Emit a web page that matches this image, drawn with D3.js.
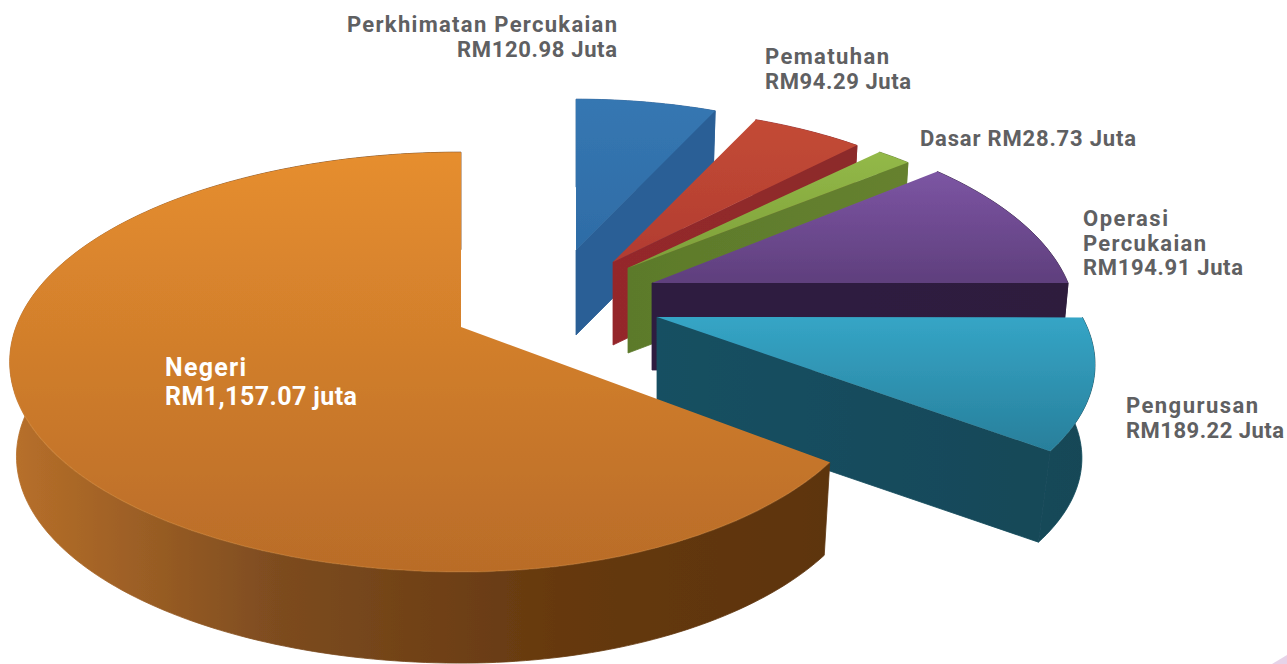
<!DOCTYPE html>
<html>
<head>
<meta charset="utf-8">
<script src="https://cdn.jsdelivr.net/npm/d3@7"></script>
<style>
  html, body { margin: 0; padding: 0; background: #fff; }
  svg { display: block; }
  text { font-family: Roboto, "Noto Sans", sans-serif; font-weight: 700; }
</style>
</head>
<body>
<svg id="chart" width="1287" height="664"></svg>
<script>
// Budget allocation, RM million, clockwise from twelve o'clock
const categories = ["Perkhimatan Percukaian", "Pematuhan", "Dasar", "Operasi Percukaian", "Pengurusan", "Negeri"];
const amounts = [120.98, 94.29, 28.73, 194.91, 189.22, 1157.07];

// Text blocks drawn beside each wedge
const labelLines = [
  ["Perkhimatan Percukaian", "RM120.98 Juta"],
  ["Pematuhan", "RM94.29 Juta"],
  ["Dasar RM28.73 Juta"],
  ["Operasi", "Percukaian", "RM194.91 Juta"],
  ["Pengurusan", "RM189.22 Juta"],
  ["Negeri", "RM1,157.07 juta"]
];

// Exploded wedge placement: apex on screen, horizontal radii, vertical radius,
// thickness, base shrink, camera distance and a slight screen-space tilt
const wedgeLayout = [
  { ax: 576, ay: 250, al: 388, ar: 388, b: 176, depth: 85, k: 0.98, view: 6, tilt: 0 },
  { ax: 613, ay: 262, al: 398, ar: 398, b: 180, depth: 83, k: 0.98, view: 6, tilt: 0 },
  { ax: 628, ay: 268, al: 410, ar: 410, b: 179, depth: 85, k: 0.98, view: 6, tilt: 0 },
  { ax: 652, ay: 283, al: 418, ar: 418, b: 195, depth: 87, k: 0.98, view: 6, tilt: 0.012 },
  { ax: 657, ay: 317, al: 428, ar: 428, b: 189, depth: 95, k: 0.97, view: 4.7, tilt: 0.0125 },
  { ax: 461, ay: 327, al: 445, ar: 414, b: 204, depth: 95, k: 0.985, view: 6, tilt: 0 }
];

// Face and wall shading per wedge
const topShades = [
  ["#3677b2", "#2e6ca6"], ["#c34b36", "#b23c30"], ["#93b948", "#7d9f39"],
  ["#7c55a3", "#5f3f7d"], ["#35a5c6", "#287f9b"], ["#e68e2f", "#b96c28"]
];
const wallShades = [
  ["#2a5f96", "#2a5f96"], ["#95282c", "#8c2a2b"], ["#5c7a2b", "#66812f"],
  ["#2e1c40", "#2e1c3e"], ["#165062", "#124757"], ["#b8702a", "#7c4b1f", "#66390f", "#5d3410"]
];

const svg = d3.select("#chart");
const defs = svg.append("defs");

defs.append("filter").attr("id", "soft")
  .attr("x", "-5%").attr("y", "-5%").attr("width", "110%").attr("height", "110%")
  .append("feGaussianBlur").attr("stdDeviation", 0.55);

// Wedge angles come straight from the amounts
const pie = d3.pie().sort(null).value(d => d).startAngle(0).endAngle(2 * Math.PI);
const arcs = pie(amounts);

// Project a ground-plane angle onto the screen with a simple perspective
function rimPoint(layout, angle, scale = 1, dy = 0) {
  const sx = Math.sin(angle), cz = Math.cos(angle);
  const p = layout.view / (layout.view + cz);
  const rx = sx < 0 ? layout.al : layout.ar;
  const run = sx * rx * p * scale;
  return [layout.ax + run, layout.ay + dy - cz * layout.b * p * scale + layout.tilt * run];
}

function sampleAngles(a0, a1) {
  const n = Math.max(4, Math.ceil((a1 - a0) / 0.02));
  return d3.range(n + 1).map(i => a0 + (a1 - a0) * i / n);
}

const line = d3.line().curve(d3.curveLinear);

function addGradient(id, stops, x1, y1, x2, y2) {
  const g = defs.append("linearGradient").attr("id", id)
    .attr("gradientUnits", "userSpaceOnUse")
    .attr("x1", x1).attr("y1", y1).attr("x2", x2).attr("y2", y2);
  g.selectAll("stop").data(stops).join("stop")
    .attr("offset", (d, i) => i / (stops.length - 1))
    .attr("stop-color", d => d);
  return `url(#${id})`;
}

const marks = svg.append("g").attr("filter", "url(#soft)");

arcs.forEach((arc, i) => {
  const L = wedgeLayout[i];
  const angles = sampleAngles(arc.startAngle, arc.endAngle);
  const topRim = angles.map(a => rimPoint(L, a));
  const baseRim = angles.map(a => rimPoint(L, a, L.k, L.depth));
  const apexTop = [L.ax, L.ay];
  const apexBase = [L.ax, L.ay + L.depth];
  const group = marks.append("g").attr("class", "wedge").datum(categories[i]);

  const xs = d3.extent(topRim.concat([apexTop]), d => d[0]);
  const ys = d3.extent(topRim.concat([apexTop]), d => d[1]);

  const wallFill = addGradient(`wall-${i}`, wallShades[i], xs[0], 0, xs[1], 0);

  // Outer curved wall
  group.append("path")
    .attr("d", line(topRim.concat(baseRim.slice().reverse())) + "Z")
    .attr("fill", wallFill)
    .attr("stroke", wallFill)
    .attr("stroke-width", 0.8);

  // Cut wall on the clockwise side of the wedge, skipped where it faces away
  if (i < 5) {
    const end = topRim[topRim.length - 1];
    const endBase = baseRim[baseRim.length - 1];
    group.append("path")
      .attr("d", line([apexTop, end, endBase, apexBase]) + "Z")
      .attr("fill", wallFill)
      .attr("stroke", wallFill)
      .attr("stroke-width", 0.8);
  }

  // Top face
  const faceFill = addGradient(`face-${i}`, topShades[i], 0, ys[0], 0, ys[1]);
  group.append("path")
    .attr("d", line([apexTop].concat(topRim)) + "Z")
    .attr("fill", faceFill);

  // Faint highlight along the front seam of the large wedge
  if (i === 5) {
    const front = angles.filter(a => Math.cos(a) < -0.3);
    group.append("path")
      .attr("d", line(front.map(a => rimPoint(L, a))))
      .attr("fill", "none")
      .attr("stroke", "#d98d3a")
      .attr("stroke-width", 1.5)
      .attr("stroke-opacity", 0.3);
  }
});

// Thin pink sliver in the page corner
svg.append("path")
  .attr("d", line([[1272, 664], [1287, 655], [1287, 664]]) + "Z")
  .attr("fill", "#e6d3e8");

// Label placement: first baseline, line gap and the set width of each line
const labelPlacement = [
  { x: 617, y: 32, anchor: "end", size: 22, lead: 25, fill: "#5f6062", widths: [270, 160] },
  { x: 765, y: 64, anchor: "start", size: 22, lead: 25, fill: "#5f6062", widths: [124, 146] },
  { x: 920, y: 146, anchor: "start", size: 22, lead: 25, fill: "#5f6062", widths: [216] },
  { x: 1083, y: 226, anchor: "start", size: 22, lead: 24.5, fill: "#5f6062", widths: [85, 123, 160] },
  { x: 1126, y: 413, anchor: "start", size: 22, lead: 25, fill: "#5f6062", widths: [132, 158] },
  { x: 165, y: 376, anchor: "start", size: 25, lead: 29, fill: "#ffffff", widths: [81, 192] }
];

labelLines.forEach((lines, i) => {
  const P = labelPlacement[i];
  svg.append("g").selectAll("text").data(lines).join("text")
    .attr("x", P.x)
    .attr("y", (d, j) => P.y + j * P.lead)
    .attr("text-anchor", P.anchor)
    .attr("fill", P.fill)
    .attr("font-size", P.size)
    .attr("textLength", (d, j) => P.widths[j])
    .attr("lengthAdjust", "spacing")
    .text(d => d);
});
</script>
</body>
</html>
